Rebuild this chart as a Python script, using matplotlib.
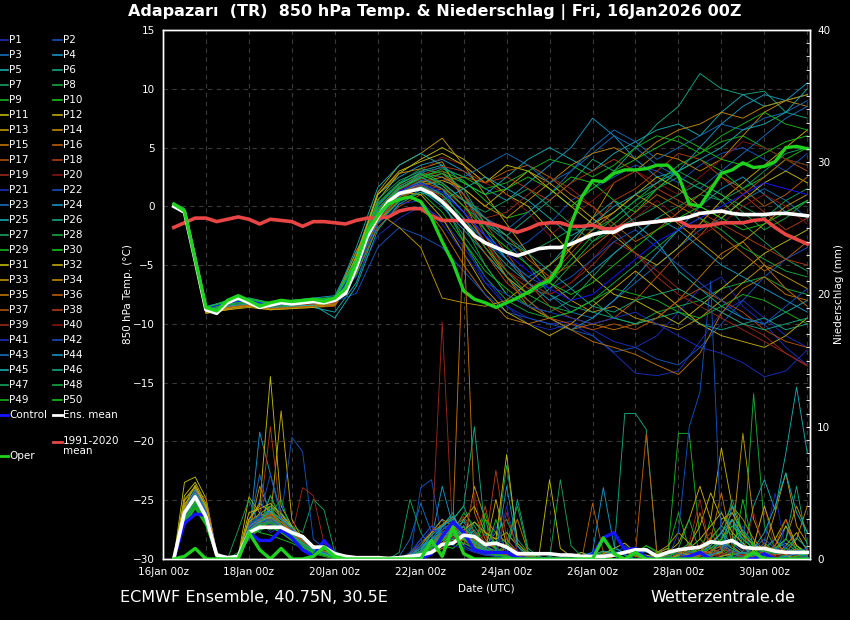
"""
ECMWF ensemble meteogram for Adapazari (TR): 850 hPa temperature of the 50
perturbed members, control, oper run, ensemble mean and 1991-2020 climate,
plus 6-hourly precipitation on a second axis.
"""
import matplotlib
matplotlib.use("Agg")
import matplotlib.pyplot as plt
from matplotlib.lines import Line2D
from matplotlib.ticker import MultipleLocator

FIG_W, FIG_H = 850, 620

# forecast hours (from 16Jan2026 00Z)
HOURS = list(range(6, 361, 6))
MEMBER_HOURS = [6] + list(range(12, 361, 12))
DAY_HOURS = list(range(0, 361, 24))
DAY_LABELS = ["16Jan 00z", "", "18Jan 00z", "", "20Jan 00z", "", "22Jan 00z", "",
              "24Jan 00z", "", "26Jan 00z", "", "28Jan 00z", "", "30Jan 00z", ""]

# 850 hPa temperature (degC), 6-hourly
MEAN_T = [0.0, -0.5, -4.6, -8.8, -9.1, -8.2, -7.8, -8.2, -8.6, -8.4,
          -8.2, -8.3, -8.2, -8.1, -8.2, -8.0, -7.4, -5.2, -2.6, -0.9,
          0.4, 1.1, 1.3, 1.5, 1.1, 0.4, -0.5, -1.5, -2.5, -3.1,
          -3.5, -3.9, -4.2, -3.9, -3.6, -3.5, -3.5, -3.2, -2.8, -2.4,
          -2.2, -2.2, -1.7, -1.5, -1.4, -1.3, -1.2, -1.1, -0.9, -0.6,
          -0.5, -0.4, -0.6, -0.7, -0.7, -0.7, -0.6, -0.6, -0.7, -0.8]
OPER_T = [0.2, -0.4, -4.5, -8.6, -8.9, -8.0, -7.6, -8.0, -8.5, -8.2,
          -8.0, -8.1, -8.0, -7.9, -8.1, -7.8, -7.0, -4.8, -2.2, -0.8,
          0.2, 0.6, 0.8, 0.4, -1.0, -3.0, -4.8, -7.2, -7.9, -8.2,
          -8.6, -8.2, -7.8, -7.3, -6.7, -6.3, -5.0, -1.5, 0.8, 2.2,
          2.1, 2.8, 3.1, 3.1, 3.2, 3.5, 3.5, 2.6, 0.2, 0.0,
          1.4, 2.8, 3.1, 3.7, 3.3, 3.4, 3.8, 5.0, 5.1, 4.9]
CLIM_T = [-1.8, -1.4, -1.0, -1.0, -1.3, -1.1, -0.9, -1.1, -1.5, -1.1,
          -1.2, -1.3, -1.7, -1.3, -1.3, -1.4, -1.5, -1.2, -1.0, -1.0,
          -0.9, -0.4, -0.2, -0.2, -0.8, -1.2, -1.2, -1.2, -1.3, -1.4,
          -1.6, -1.9, -2.2, -1.9, -1.5, -1.4, -1.4, -1.7, -1.7, -1.6,
          -1.9, -1.9, -1.6, -1.5, -1.4, -1.3, -1.1, -1.2, -1.7, -1.7,
          -1.6, -1.4, -1.4, -1.4, -1.2, -1.1, -1.8, -2.4, -2.8, -3.2]

# 850 hPa temperature of control and members, at MEMBER_HOURS
CONTROL_T = [0.1, -0.4, -8.7, -8.2, -8.0, -8.4, -8.3, -8.1, -8.0, -5.1, -0.7,
             1.3, 2.0, 1.2, -0.5, -2.5, -4.0, -5.5, -7.0, -8.0, -7.5,
             -6.0, -4.5, -3.0, -2.0, -1.0, 0.0, 1.0, 2.0, 1.5, 1.0]
MEMBER_T = [
    [0.1, -0.3, -8.7, -8.2, -8.0, -8.5, -8.3, -8.0, -7.9, -5.0, -0.5,
     1.5, 2.0, 0.5, -3.0, -6.5, -8.5, -9.5, -10.0, -9.8, -10.5,
     -11.5, -12.0, -11.0, -9.0, -7.0, -6.0, -8.5, -10.0, -12.0, -13.5],
    [0.0, -0.5, -8.9, -8.4, -8.1, -8.3, -8.2, -8.1, -8.2, -5.8, -1.2,
     0.8, 1.6, 1.2, -0.5, -2.5, -4.0, -3.0, -1.5, 0.5, 1.5,
     2.5, 3.5, 3.0, 2.0, 3.5, 4.5, 5.0, 4.0, 3.0, 4.5],
    [-0.1, -0.4, -8.6, -8.0, -7.9, -8.4, -8.4, -8.3, -8.0, -4.5, 0.2,
     2.0, 2.8, 2.5, 1.0, -1.0, -3.0, -5.0, -7.5, -9.0, -9.5,
     -8.0, -6.5, -5.0, -3.5, -2.0, -1.0, 0.5, 1.5, 0.5, -1.0],
    [0.2, -0.2, -8.5, -8.1, -7.8, -8.2, -8.0, -7.8, -7.6, -4.0, 1.0,
     2.5, 3.5, 4.0, 3.0, 1.5, 0.5, 2.0, 3.5, 5.0, 7.5,
     6.0, 4.0, 2.5, 3.0, 5.0, 7.0, 8.5, 9.5, 9.0, 10.5],
    [0.0, -0.4, -8.8, -8.5, -8.2, -8.6, -8.5, -8.6, -9.0, -6.5, -1.5,
     1.0, 3.0, 3.5, 1.0, -2.0, -4.5, -6.0, -5.0, -3.0, -1.0,
     0.5, -1.5, -3.0, -5.5, -7.0, -8.5, -9.5, -10.0, -9.0, -8.0],
    [0.1, -0.3, -8.6, -8.3, -8.0, -8.4, -8.1, -8.0, -8.1, -5.5, -0.8,
     1.2, 2.2, 1.8, 0.0, -1.5, -2.5, -1.0, 0.5, 2.0, 4.0,
     3.0, 5.0, 7.0, 8.5, 11.3, 10.0, 9.5, 9.8, 8.0, 7.5],
    [0.2, -0.3, -8.7, -8.2, -8.1, -8.3, -8.2, -8.2, -8.3, -5.5, -1.0,
     0.8, 1.5, 0.2, -2.5, -5.0, -7.5, -8.5, -9.0, -8.0, -6.0,
     -4.0, -2.5, -1.0, 0.0, 1.0, 0.5, -1.5, -3.0, -4.5, -5.5],
    [0.0, -0.5, -8.8, -8.4, -8.3, -8.5, -8.4, -8.2, -8.0, -5.3, -1.0,
     1.0, 2.0, 0.5, -3.0, -6.0, -8.0, -9.0, -9.5, -9.0, -8.0,
     -9.5, -10.0, -9.0, -8.5, -8.0, -7.0, -6.5, -6.0, -7.0, -7.5],
    [0.1, -0.4, -8.7, -8.1, -8.0, -8.4, -8.3, -8.1, -8.1, -5.0, -0.5,
     1.3, 1.8, 0.5, -1.5, -4.0, -6.0, -7.5, -6.5, -4.5, -2.5,
     -1.0, 0.5, 2.0, 3.5, 4.5, 5.5, 6.0, 5.0, 4.0, 3.5],
    [0.3, -0.2, -8.6, -8.0, -7.9, -8.2, -8.1, -7.9, -7.8, -4.8, -0.2,
     1.5, 2.6, 3.0, 2.2, 0.5, -1.0, -0.5, 1.0, 2.5, 2.0,
     0.5, -0.5, 1.5, 3.0, 4.0, 3.0, 1.5, 2.5, 4.0, 5.0],
    [0.0, -0.4, -9.0, -8.6, -8.3, -8.6, -8.5, -8.4, -8.2, -4.6, 0.5,
     2.8, 4.0, 5.0, 4.0, 2.5, 1.0, 0.0, -2.0, -4.0, -6.0,
     -7.5, -8.0, -9.0, -10.0, -8.5, -7.0, -5.5, -4.0, -3.0, -2.0],
    [0.1, -0.3, -8.8, -8.4, -8.2, -8.5, -8.4, -8.3, -8.4, -5.5, -1.3,
     0.5, 1.8, 2.2, 1.5, 0.0, 1.5, 3.0, 2.0, 0.5, -1.0,
     -2.5, -4.0, -5.0, -3.5, -1.5, 0.5, 2.0, 3.5, 5.0, 6.5],
    [0.2, -0.3, -8.9, -8.7, -8.4, -8.8, -8.6, -8.5, -8.3, -4.2, 1.2,
     3.5, 4.5, 5.8, 3.5, 1.0, -1.5, -4.0, -6.5, -8.0, -9.0,
     -8.5, -9.5, -10.0, -10.5, -9.5, -8.0, -6.5, -5.0, -6.0, -7.0],
    [0.0, -0.5, -9.1, -8.8, -8.5, -8.7, -8.6, -8.5, -8.2, -4.5, 1.0,
     2.8, 3.2, 3.8, 0.5, -3.5, -6.0, -7.5, -6.0, -3.5, -1.0,
     2.0, 3.0, 4.5, 4.0, 3.0, 4.0, 6.0, 8.0, 9.0, 8.5],
    [0.1, -0.4, -8.8, -8.5, -8.4, -8.6, -8.5, -8.3, -8.2, -5.2, -0.8,
     1.0, 0.5, -2.0, -5.0, -7.5, -9.5, -10.0, -9.5, -10.5, -10.0,
     -10.5, -10.0, -9.5, -8.0, -6.0, -4.0, -3.0, -5.0, -7.0, -8.5],
    [0.0, -0.6, -8.9, -8.6, -8.4, -8.8, -8.7, -8.6, -8.5, -5.8, -1.8,
     0.0, 1.0, 1.5, 0.5, -1.0, -2.5, -4.5, -6.0, -5.0, -3.5,
     -2.0, -0.5, 1.0, 0.0, -1.0, -2.5, -4.0, -5.5, -4.5, -3.0],
    [0.2, -0.3, -8.7, -8.3, -8.1, -8.4, -8.3, -8.2, -8.1, -5.4, -1.0,
     1.0, 2.0, 2.8, 1.0, -1.5, -4.0, -6.5, -8.5, -9.5, -10.0,
     -9.5, -8.0, -6.0, -4.0, -2.5, -0.5, 1.0, 2.5, 4.0, 3.0],
    [0.1, -0.4, -8.8, -8.4, -8.2, -8.6, -8.4, -8.3, -8.2, -5.0, -0.6,
     1.4, 2.4, 3.0, 1.0, -2.5, -5.5, -7.0, -6.0, -4.0, -2.0,
     0.5, 1.5, 3.0, 4.5, 4.0, 2.5, 1.0, -0.5, -2.0, -1.0],
    [0.0, -0.5, -8.9, -8.6, -8.3, -8.7, -8.5, -8.4, -8.3, -5.5, -1.1,
     0.6, 1.6, 1.0, -1.0, -3.5, -5.5, -7.0, -7.5, -6.5, -5.0,
     -3.0, -4.0, -5.5, -7.0, -8.0, -9.0, -10.0, -11.0, -12.5, -13.5],
    [0.1, -0.4, -8.7, -8.3, -8.1, -8.4, -8.3, -8.1, -8.0, -4.8, -0.3,
     1.8, 3.0, 4.2, 3.5, 2.0, 1.0, -0.5, -2.5, -1.0, 0.5,
     2.0, 3.0, 2.0, 1.0, 2.5, 4.0, 5.5, 5.0, 4.0, 3.5],
    [0.2, -0.3, -8.6, -8.1, -7.9, -8.3, -8.2, -8.0, -7.9, -6.0, -2.5,
     -1.0, 0.0, -1.0, -3.5, -6.0, -8.5, -10.0, -10.5, -10.0, -11.0,
     -12.5, -14.2, -14.4, -14.0, -11.5, -9.0, -8.0, -9.5, -11.0, -12.0],
    [0.0, -0.4, -8.8, -8.4, -8.2, -8.5, -8.3, -8.3, -8.1, -7.4, -3.5,
     -1.8, -2.5, -3.5, -5.5, -7.5, -9.0, -9.5, -10.0, -10.5, -11.0,
     -12.4, -12.0, -13.0, -13.5, -12.0, -10.0, -8.0, -6.0, -4.5, -3.5],
    [0.1, -0.3, -8.7, -8.2, -8.0, -8.4, -8.2, -8.1, -8.0, -5.2, -0.7,
     1.2, 2.2, 2.0, 0.5, -1.0, -2.0, -0.5, 1.0, 3.0, 4.5,
     6.0, 5.0, 3.5, 2.5, 1.5, 3.0, 4.5, 6.0, 7.5, 8.5],
    [-0.1, -0.5, -8.9, -8.5, -8.3, -8.6, -8.5, -8.4, -8.3, -5.6, -1.4,
     0.4, 1.4, 0.0, -2.0, -4.0, -6.0, -8.0, -9.5, -10.5, -9.5,
     -8.0, -6.0, -4.0, -2.0, 0.0, 1.5, 2.5, 1.0, -0.5, 0.5],
    [0.1, -0.3, -8.6, -8.2, -8.0, -8.3, -8.2, -8.1, -7.9, -3.5, 1.6,
     3.5, 4.5, 3.5, 2.0, 1.0, 2.5, 4.0, 5.0, 4.0, 3.0,
     4.5, 5.5, 6.5, 7.0, 6.0, 8.0, 9.5, 8.5, 9.0, 9.5],
    [0.0, -0.4, -8.7, -8.3, -8.1, -8.5, -8.3, -8.2, -8.1, -5.3, -0.9,
     0.9, 1.7, 1.0, -1.0, -3.0, -5.0, -6.5, -7.5, -8.5, -9.0,
     -9.5, -10.0, -9.5, -9.0, -10.0, -10.5, -10.0, -9.5, -10.5, -10.0],
    [0.2, -0.2, -8.6, -8.1, -7.8, -8.2, -8.0, -7.9, -7.7, -4.4, 0.6,
     2.2, 3.0, 2.0, 0.5, -0.5, 0.5, 1.5, 0.0, -1.5, -3.0,
     -2.0, -1.0, 0.0, 1.0, 2.0, 1.0, 0.0, -1.0, 0.5, 1.5],
    [0.1, -0.3, -8.8, -8.3, -8.1, -8.4, -8.3, -8.1, -8.0, -5.0, -0.5,
     1.5, 2.5, 1.5, -1.5, -5.0, -7.5, -8.5, -7.0, -5.0, -3.0,
     -1.5, 0.0, 1.5, 3.0, 2.0, 1.0, -0.5, -2.0, -1.0, 0.5],
    [0.0, -0.5, -8.9, -8.5, -8.3, -8.7, -8.5, -8.3, -8.2, -5.8, -1.5,
     0.5, 1.2, -0.5, -3.0, -5.5, -7.0, -8.5, -9.5, -9.0, -8.0,
     -7.0, -7.5, -8.0, -9.0, -9.5, -8.5, -7.5, -8.0, -9.0, -10.0],
    [0.1, -0.3, -8.7, -8.2, -8.0, -8.3, -8.2, -8.0, -7.9, -4.9, -0.4,
     1.6, 2.3, 2.8, 2.0, 1.0, 1.5, 2.5, 1.5, 0.0, 1.5,
     3.0, 4.0, 5.0, 6.0, 5.0, 4.0, 3.5, 4.5, 5.5, 6.0],
    [0.2, -0.3, -9.0, -8.7, -8.4, -8.7, -8.6, -8.4, -8.2, -4.3, 1.0,
     3.0, 3.8, 4.5, 3.5, 2.0, 3.5, 3.0, 1.5, 0.0, -1.5,
     -0.5, 1.0, 2.5, 1.5, 0.0, -1.0, 0.5, 2.0, 3.0, 2.0],
    [0.0, -0.5, -9.1, -8.8, -8.6, -8.8, -8.7, -8.6, -8.4, -5.0, -0.6,
     1.2, 1.0, -1.0, -4.0, -7.0, -9.0, -10.0, -11.0, -10.0, -8.5,
     -7.0, -5.5, -7.0, -8.5, -10.0, -11.0, -11.5, -12.0, -11.0, -9.5],
    [0.1, -0.4, -8.9, -8.6, -8.3, -8.6, -8.5, -8.3, -8.1, -3.8, -0.5,
     -1.8, -3.5, -7.8, -8.2, -8.5, -8.0, -6.5, -5.0, -3.5, -2.0,
     -0.5, 1.0, 0.0, -1.5, -3.0, -4.5, -3.0, -1.5, 0.0, 1.0],
    [0.0, -0.5, -9.0, -8.7, -8.5, -8.7, -8.6, -8.5, -8.3, -5.4, -1.0,
     1.0, 2.0, 2.5, 1.5, 0.0, -1.0, 0.5, 2.0, 3.5, 4.5,
     5.0, 4.0, 5.5, 6.5, 7.0, 8.0, 7.5, 8.5, 9.0, 9.5],
    [0.1, -0.3, -8.8, -8.5, -8.3, -8.6, -8.4, -8.3, -8.1, -5.1, -0.7,
     1.1, 2.1, 1.5, -0.5, -3.0, -6.0, -8.5, -9.5, -10.5, -11.5,
     -12.0, -12.6, -13.5, -14.3, -12.5, -9.1, -7.0, -6.0, -7.5, -8.0],
    [0.0, -0.5, -8.9, -8.6, -8.4, -8.7, -8.6, -8.5, -8.4, -5.6, -1.2,
     0.8, 1.8, 2.2, 2.5, 2.0, 3.0, 3.5, 2.5, 1.0, 0.0,
     -1.5, -3.0, -2.0, -0.5, 1.0, 2.5, 1.5, 0.0, 1.0, 2.5],
    [0.2, -0.3, -8.7, -8.3, -8.1, -8.5, -8.3, -8.2, -8.1, -5.3, -0.9,
     1.0, 1.9, 0.8, -1.5, -4.0, -6.5, -8.0, -9.5, -10.0, -10.5,
     -10.0, -10.5, -9.5, -8.0, -7.0, -8.0, -9.0, -10.5, -11.5, -12.0],
    [0.1, -0.4, -8.8, -8.4, -8.2, -8.5, -8.4, -8.3, -8.2, -4.9, -0.3,
     1.7, 2.6, 3.4, 3.0, 2.0, 2.5, 1.5, 0.5, 2.0, 3.0,
     4.0, 3.0, 1.5, 0.5, -0.5, -1.5, -2.5, -3.5, -4.5, -5.0],
    [0.0, -0.5, -8.8, -8.5, -8.3, -8.6, -8.5, -8.3, -8.2, -5.3, -0.9,
     1.0, 1.8, 1.5, 0.0, -1.0, -0.5, 1.0, 2.5, 1.5, 0.0,
     -2.0, -4.0, -6.0, -7.5, -8.5, -9.5, -10.5, -11.5, -12.5, -13.6],
    [0.1, -0.3, -8.7, -8.3, -8.1, -8.4, -8.3, -8.2, -8.0, -5.2, -0.6,
     1.3, 2.3, 2.0, 0.0, -3.0, -5.5, -6.5, -7.5, -6.5, -4.5,
     -2.5, -1.0, 0.5, -1.0, -2.5, -1.5, 0.0, 1.0, 0.0, -1.5],
    [0.1, -0.4, -8.7, -8.2, -8.0, -8.4, -8.3, -8.1, -8.0, -5.5, -1.5,
     0.2, 0.5, -1.5, -4.0, -6.5, -7.5, -8.5, -9.0, -9.5, -10.0,
     -9.5, -9.0, -10.0, -11.0, -12.0, -12.5, -13.3, -14.5, -14.0, -12.2],
    [0.0, -0.5, -8.8, -8.4, -8.2, -8.5, -8.4, -8.2, -8.1, -5.4, -1.0,
     0.9, 1.9, 1.0, -1.0, -3.0, -4.5, -6.0, -7.0, -6.0, -4.5,
     -3.0, -2.0, -3.5, -5.0, -6.5, -8.0, -9.5, -10.0, -8.5, -7.0],
    [0.2, -0.3, -8.6, -8.1, -7.9, -8.3, -8.1, -8.0, -7.9, -4.7, 0.0,
     1.9, 2.9, 3.3, 2.5, 3.5, 4.5, 3.5, 2.0, 3.0, 5.0,
     6.5, 5.5, 4.0, 5.0, 6.0, 7.0, 6.5, 7.5, 8.0, 9.0],
    [0.1, -0.4, -8.7, -8.3, -8.1, -8.4, -8.3, -8.1, -8.0, -5.1, -0.5,
     1.5, 2.5, 1.5, -0.5, -2.5, -4.5, -6.5, -8.0, -7.0, -5.5,
     -4.0, -2.5, -1.0, -2.0, -3.5, -5.0, -6.0, -7.0, -8.0, -9.0],
    [0.0, -0.5, -8.8, -8.5, -8.3, -8.6, -8.5, -8.4, -9.5, -6.8, -2.0,
     0.2, 1.2, 0.5, 1.5, 2.5, 1.5, 0.5, -1.0, -2.5, -1.5,
     0.0, 1.0, 2.0, 3.0, 4.0, 5.0, 6.5, 7.0, 8.0, 10.0],
    [0.1, -0.3, -8.7, -8.2, -8.0, -8.3, -8.2, -8.0, -7.9, -4.8, -0.2,
     1.7, 2.7, 2.0, 0.5, -1.0, -2.5, -4.0, -5.5, -7.0, -8.5,
     -9.0, -8.0, -7.5, -7.0, -8.0, -9.0, -10.0, -10.5, -10.0, -9.5],
    [0.2, -0.2, -8.6, -8.1, -7.9, -8.2, -8.1, -7.9, -7.8, -4.6, 0.3,
     2.0, 3.2, 2.8, 1.5, -1.5, -3.0, -4.0, -3.0, -2.0, -2.0,
     -1.0, 0.5, 1.5, 2.5, 1.5, 0.5, 1.5, 3.0, 4.5, 5.0],
    [0.0, -0.4, -8.8, -8.4, -8.2, -8.5, -8.4, -8.2, -8.1, -5.3, -0.8,
     1.1, 2.1, 1.0, -1.0, -3.5, -5.5, -7.5, -8.5, -9.0, -8.0,
     -6.5, -5.0, -3.5, -2.0, -1.0, -2.0, -3.5, -4.5, -5.5, -6.0],
    [0.1, -0.3, -8.7, -8.3, -8.1, -8.4, -8.3, -8.1, -8.0, -5.0, -0.4,
     1.5, 2.4, 3.2, 2.5, 1.5, 2.0, 3.0, 4.0, 3.5, 2.5,
     3.5, 5.0, 6.0, 5.5, 4.5, 6.0, 7.0, 8.0, 7.0, 6.5],
    [0.2, -0.3, -8.6, -8.1, -7.9, -8.2, -8.1, -7.9, -7.8, -4.5, 0.1,
     1.9, 2.8, 1.8, 0.0, -2.0, -3.5, -5.0, -6.5, -7.5, -6.5,
     -5.0, -3.5, -2.0, -1.0, 0.0, -1.0, -2.0, -1.5, -0.5, 0.5],
]

# 6-hourly precipitation (mm), at HOURS
MEAN_P = [0, 3.5, 4.7, 3.2, 0.3, 0.1, 0.2, 2.0, 2.4, 2.4,
          2.4, 2.0, 1.7, 0.9, 0.9, 0.4, 0.2, 0.1, 0.1, 0.1,
          0.05, 0.1, 0.2, 0.3, 0.5, 1.1, 1.2, 1.8, 1.7, 1.1,
          1.2, 0.9, 0.4, 0.4, 0.4, 0.4, 0.3, 0.3, 0.2, 0.2,
          0.2, 0.3, 0.5, 0.7, 0.7, 0.2, 0.5, 0.7, 0.8, 0.9,
          1.3, 1.2, 1.4, 0.9, 0.8, 0.8, 0.6, 0.5, 0.5, 0.5]
CONTROL_P = [0, 2.7, 3.4, 3.3, 0.3, 0.1, 0.1, 2.0, 1.4, 1.4,
             2.2, 1.6, 0.7, 0.2, 1.4, 0.4, 0, 0, 0, 0,
             0, 0, 0, 0, 0.4, 1.7, 2.8, 2.0, 0.7, 0.5,
             0.5, 0.5, 0.1, 0, 0, 0, 0, 0, 0, 0.3,
             1.6, 2.0, 0.7, 0.8, 0.1, 0, 0, 0, 0.2, 0.5,
             0, 0, 0, 0, 0, 0.4, 0, 0, 0, 0]
OPER_P = [0, 0.2, 0.8, 0, 0, 0, 0, 2.0, 0.7, 0,
          0.8, 0, 0, 0.2, 0.9, 0.2, 0, 0, 0, 0,
          0, 0, 0, 0, 1.4, 0.2, 2.4, 0.4, 0, 0,
          0, 0, 0, 0, 0, 0, 0, 0, 0, 0,
          1.6, 0.4, 0, 0.5, 0, 0, 0, 0, 0, 0,
          0, 0, 0, 0, 0.5, 0, 0, 0, 0, 0]
MEMBER_P = [
    [0, 3.2, 4.5, 3.0, 0.2, 0, 0.2, 2.5, 3.0, 2.0, 2.5, 1.5, 1.0, 0.5, 0.8, 0.2, 0, 0, 0.1, 0,
     0, 0, 0.3, 1.0, 1.5, 2.0, 1.2, 1.8, 1.0, 0.6, 0.8, 0.3, 0.2, 0, 0, 0.1, 0, 0, 0.3, 0.5,
     0.2, 0, 0, 0.4, 0.8, 0.3, 0, 0.5, 1.2, 0.6, 0.3, 0.8, 1.5, 0.6, 0.2, 0.4, 1.0, 0.5, 0.2, 0.4],
    [0, 3.8, 5.0, 3.5, 0.3, 0, 0, 1.8, 4.5, 2.8, 3.0, 2.2, 1.5, 0.8, 0.5, 0.3, 0, 0, 0, 0,
     0, 0, 0, 5.4, 6.0, 1.5, 2.5, 1.0, 0.5, 0.8, 1.2, 1.5, 0.6, 0.3, 0, 0, 0, 0.2, 0, 0,
     0, 0.3, 1.0, 0.5, 0, 0, 0.2, 0, 0, 0.4, 1.2, 2.0, 0.8, 0.3, 0, 0, 0.5, 1.5, 0.8, 0.3],
    [0, 3.5, 5.2, 3.4, 0.1, 0, 0.1, 2.8, 2.0, 3.2, 2.8, 1.8, 0.6, 0.3, 0.5, 0.6, 0.1, 0, 0, 0,
     0, 0.2, 1.5, 4.2, 2.0, 3.0, 1.0, 2.2, 0.8, 0.4, 0.3, 0.5, 0.2, 0, 0, 0, 0, 0, 0, 0,
     0, 0, 0, 0, 0, 0, 0, 0.3, 0.8, 0.4, 0.2, 0, 0, 0.6, 1.2, 0.5, 0.2, 2.5, 0.6, 0],
    [0, 4.0, 5.5, 3.8, 0.4, 0, 0.3, 1.5, 9.6, 6.4, 3.5, 2.0, 1.2, 0.8, 0.4, 0.2, 0, 0, 0, 0,
     0, 0, 0.2, 0.8, 1.5, 5.5, 2.5, 3.0, 1.8, 0.9, 0.5, 0.8, 0.2, 0.1, 0, 0, 0, 0, 0, 0,
     0, 0, 0.5, 0.2, 0, 0, 0, 0, 0.3, 0.6, 0.2, 0.5, 0.2, 0, 0, 0.8, 0.4, 0.2, 0, 0],
    [0, 3.0, 4.8, 3.2, 0.2, 0, 0, 2.2, 3.5, 2.5, 2.0, 1.5, 1.0, 0.6, 0.5, 0.2, 0, 0, 0, 0,
     0, 0, 0.1, 0.6, 2.0, 2.5, 3.5, 1.5, 2.2, 1.0, 0.6, 0.4, 0.2, 0, 0, 0, 0, 0.2, 0.5, 0.2,
     0.3, 0.8, 0.5, 0.4, 0.2, 0.5, 0.8, 0.3, 0, 0, 0, 0.3, 0.6, 0.4, 4.0, 6.0, 3.7, 8.0, 13.0, 8.0],
    [0, 3.3, 4.6, 3.1, 0.2, 0, 0.2, 2.0, 2.8, 4.0, 3.5, 2.5, 1.2, 0.8, 0.6, 0.3, 0, 0, 0, 0,
     0, 0, 0.3, 0.5, 1.0, 2.5, 3.0, 4.0, 2.0, 1.0, 0.5, 0.2, 0, 0, 0, 0, 0.1, 0, 0, 0,
     0.2, 0.5, 11.0, 11.0, 9.8, 0.3, 0, 0.4, 0.2, 0, 0.5, 1.5, 2.5, 1.8, 0.6, 0.3, 0.8, 1.2, 0.6, 0.4],
    [0, 2.8, 4.2, 2.8, 0.1, 0, 0, 2.2, 2.5, 4.8, 3.0, 2.5, 2.0, 4.5, 3.7, 0.5, 0, 0, 0, 0,
     0, 0.5, 4.5, 2.0, 0.8, 1.2, 2.0, 1.5, 2.8, 1.8, 1.0, 7.1, 1.5, 0.5, 0, 0.2, 0, 0, 0, 0,
     0, 0, 0, 0, 0, 0.2, 0.5, 0.2, 0, 0, 0, 0.2, 0.8, 0.4, 0.2, 0, 0, 0.3, 0.6, 0.2],
    [0, 3.6, 5.0, 3.6, 0.3, 0, 0.1, 1.6, 2.2, 2.8, 2.2, 1.8, 1.5, 0.8, 0.4, 0.1, 0, 0, 0, 0,
     0, 0, 0.2, 0.4, 0.8, 1.5, 2.0, 3.5, 2.5, 1.2, 0.8, 0.5, 0.4, 0.2, 0, 0, 0, 0, 0, 0.2,
     0.5, 0.3, 0, 0, 0.2, 0.4, 0.3, 0, 0.5, 0.8, 1.5, 0.8, 0.5, 0.3, 12.5, 2.5, 0.8, 0.4, 0.2, 0],
    [0, 3.1, 4.4, 3.0, 0.2, 0, 0, 1.9, 2.6, 2.2, 2.5, 1.6, 1.2, 0.6, 0.5, 0.3, 0, 0, 0, 0,
     0, 0, 0.2, 0.6, 1.2, 2.0, 1.5, 2.5, 1.0, 0.5, 0.4, 0.3, 0.5, 0.2, 0, 0, 0, 0, 0, 0,
     0, 0, 0, 0.5, 1.0, 0.6, 0.3, 9.5, 9.5, 1.5, 0.8, 0.4, 0.2, 0, 0.5, 1.2, 0.6, 0.3, 0.8, 0.4],
    [0, 2.6, 4.0, 2.6, 0.1, 0, 0, 2.4, 2.0, 1.8, 1.5, 1.2, 0.8, 0.4, 0.2, 0, 0, 0, 0, 0,
     0, 0, 0.1, 0.3, 0.6, 1.0, 0.8, 1.5, 0.6, 0.3, 3.0, 0.4, 0, 0, 0, 0, 0, 0, 0, 0,
     0, 0, 0, 0, 0, 0, 0, 0.2, 0.6, 0.3, 3.0, 0.8, 0, 0.3, 0.6, 0.2, 0, 0, 0, 0.2],
    [0, 5.8, 6.2, 4.6, 0.5, 0, 0.3, 3.0, 4.0, 13.8, 4.0, 2.5, 1.5, 1.0, 0.6, 0.3, 0, 0, 0, 0,
     0, 0, 0, 0.3, 1.0, 2.0, 1.5, 3.0, 4.0, 2.0, 1.5, 2.0, 1.0, 0.3, 0, 0, 0, 0.2, 0.5, 0,
     0.4, 0.8, 1.2, 0.5, 0.3, 0, 0, 0.4, 1.0, 2.5, 5.0, 3.0, 3.5, 2.0, 1.0, 0.8, 1.5, 3.0, 1.0, 0.5],
    [0, 4.5, 5.5, 4.0, 0.4, 0, 0.2, 4.7, 3.5, 3.0, 11.2, 3.0, 1.5, 0.8, 0.4, 0.2, 0, 0, 0, 0,
     0, 0, 0, 0.2, 0.6, 1.5, 2.0, 2.5, 1.5, 0.8, 0.5, 0.3, 0.2, 0, 0, 0, 0, 0, 0, 0,
     0, 0.2, 0.5, 0.3, 0, 0, 0.5, 1.2, 3.0, 5.5, 3.0, 8.4, 4.0, 2.0, 1.0, 0.5, 0.3, 1.0, 2.0, 0.6],
    [0, 4.2, 5.0, 3.8, 0.3, 0, 0, 2.5, 3.0, 3.5, 2.8, 2.0, 1.2, 0.6, 0.3, 0.1, 0, 0, 0, 0,
     0, 0, 0.3, 1.0, 2.0, 3.0, 2.5, 1.0, 5.5, 3.0, 2.0, 1.2, 0.5, 0.2, 0, 0, 0, 0, 0, 0,
     0, 0, 0, 0, 0, 0.3, 0.6, 0.3, 0, 0, 0.2, 0.5, 1.5, 9.5, 3.0, 1.0, 0.6, 0.4, 0.8, 0.3],
    [0, 3.9, 5.2, 3.6, 0.3, 0, 0.2, 2.0, 5.5, 3.5, 2.5, 1.8, 1.0, 0.5, 0.3, 0.2, 0, 0, 0, 0,
     0, 0, 0.2, 0.5, 1.0, 1.8, 2.2, 1.5, 1.0, 0.6, 0.3, 0.2, 0, 0, 0, 0, 0, 0, 0, 0,
     0, 0, 0, 0, 0, 0, 0, 0, 0.4, 0.8, 1.6, 2.5, 4.0, 3.0, 1.5, 0.6, 0.3, 0.5, 1.5, 4.0],
    [0, 3.4, 4.8, 3.3, 0.2, 0, 0, 2.3, 3.0, 2.6, 2.2, 1.6, 1.0, 0.6, 0.3, 0.1, 0, 0, 0, 0,
     0, 0, 0.1, 0.4, 1.2, 2.2, 2.8, 25.0, 3.5, 1.5, 0.8, 0.5, 0.2, 0, 0, 0, 0, 0, 0, 0,
     0, 0, 0, 0, 0, 0, 0, 0, 0.6, 3.5, 0.8, 0.2, 0.4, 0.2, 0, 0.3, 0.5, 0.2, 0, 0],
    [0, 3.7, 5.1, 4.6, 0.4, 0, 0, 2.6, 2.8, 3.0, 2.4, 1.9, 1.4, 0.8, 0.5, 0.2, 0, 0, 0, 0,
     0, 0, 0, 0.3, 0.8, 1.5, 2.0, 1.8, 1.2, 0.8, 0.6, 0.4, 0.2, 0, 0, 0, 0, 0, 0, 4.2,
     0.5, 0, 0, 0.5, 9.5, 0.4, 0, 0, 0, 0.3, 0.8, 0.5, 0.2, 0, 0, 0, 0.3, 0.8, 0.4, 0.2],
    [0, 3.3, 4.7, 3.5, 0.3, 0, 0, 2.1, 2.9, 3.5, 3.2, 2.0, 1.5, 1.0, 0.6, 0.3, 0.1, 0, 0, 0,
     0, 0, 0.2, 0.6, 1.2, 1.6, 2.4, 3.2, 2.0, 1.2, 0.8, 0.5, 0.3, 0.1, 0, 0, 0, 0, 0, 0,
     0, 0, 0, 0, 0, 0, 0, 0, 0, 0.2, 0.6, 1.0, 0.6, 0.3, 0.2, 0.4, 0.8, 0.5, 0.3, 0.2],
    [0, 3.5, 4.9, 3.4, 0.2, 0, 0, 2.0, 3.1, 10.0, 3.0, 2.2, 1.5, 0.9, 0.5, 0.2, 0, 0, 0, 0,
     0, 0, 0, 0.2, 0.5, 1.0, 1.8, 2.5, 1.5, 1.0, 6.7, 1.5, 0.5, 0.2, 0, 0, 0, 0, 0, 0,
     0, 0, 0, 0, 0, 0, 0, 0, 0.4, 1.0, 2.0, 0.8, 0.4, 0.2, 0, 0, 0.3, 0.6, 0.3, 0],
    [0, 3.0, 4.3, 3.1, 0.2, 0, 0, 2.3, 2.6, 2.9, 2.4, 1.8, 5.4, 4.8, 1.2, 0.4, 0, 0, 0, 0,
     0, 0, 0, 0.3, 0.8, 17.9, 1.5, 1.2, 0.8, 0.5, 0.3, 0.2, 0, 0, 0, 0, 0, 0, 0, 0,
     0, 0, 0, 0, 0, 0, 0, 0, 0, 0, 0.2, 0.4, 0.2, 0, 1.0, 4.0, 0.8, 0.2, 0.4, 0.2],
    [0, 2.9, 4.1, 2.9, 0.1, 0, 0, 1.7, 2.4, 2.6, 2.0, 1.4, 1.0, 0.5, 0.3, 0.1, 0, 0, 0, 0,
     0, 0, 0, 0.2, 0.6, 1.0, 1.5, 2.0, 1.2, 0.6, 0.4, 0.2, 0.1, 0, 0, 0, 0, 0, 0, 0,
     0, 0, 0, 0, 0, 0.2, 0.6, 0.3, 0, 0, 0.3, 0.8, 1.5, 0.6, 0.2, 0, 0, 0.2, 0.5, 0.2],
    [0, 3.4, 4.7, 3.2, 0.2, 0, 0, 2.4, 3.2, 2.5, 2.0, 1.5, 0.8, 0.5, 0.3, 0.1, 0, 0, 0, 0,
     0, 0, 0.3, 1.5, 2.5, 1.5, 1.0, 0.8, 0.5, 0.3, 0.2, 4.0, 0.5, 0, 0, 0, 0, 0, 0, 0,
     0, 0, 0, 0, 0, 0, 0, 0, 0, 0, 0, 0.2, 0.4, 2.5, 0.3, 0, 0, 0.2, 0.5, 0.8],
    [0, 3.6, 5.0, 3.5, 0.3, 0, 0.2, 2.6, 3.3, 2.8, 3.2, 9.2, 8.1, 1.5, 0.8, 0.3, 0, 0, 0, 0,
     0, 0, 0.4, 1.0, 1.5, 2.5, 1.8, 1.0, 0.6, 0.3, 0.2, 0.1, 0, 0, 0, 0, 0, 0, 0, 0,
     0, 0, 0, 0, 0, 0, 0, 0.2, 0.5, 0.3, 0, 0, 0.2, 0.3, 0.1, 0, 0, 0.2, 0.3, 0.1],
    [0, 3.2, 4.6, 3.3, 0.2, 0, 0, 2.2, 6.4, 3.0, 2.5, 1.8, 1.2, 0.6, 0.4, 0.2, 0, 0, 0, 0,
     0, 0, 0.2, 0.8, 1.8, 2.5, 3.0, 2.0, 1.5, 0.8, 0.5, 0.3, 0.2, 0, 0, 0, 0, 0, 0, 0,
     0.3, 0.6, 0.3, 0, 0, 0, 0.4, 0.8, 0.5, 0.3, 0.6, 1.2, 0.8, 0.4, 0.3, 0.8, 1.5, 0.8, 0.4, 0.2],
    [0, 3.7, 5.3, 3.7, 0.3, 0, 0, 2.0, 2.7, 3.8, 2.6, 2.0, 1.3, 0.7, 0.4, 0.2, 0, 0, 0, 0,
     0, 0, 0.2, 0.6, 1.4, 2.0, 2.6, 1.8, 1.0, 0.5, 0.3, 0.2, 0, 0, 0, 0, 0, 0, 0.2, 0.5,
     5.4, 1.0, 0.3, 0, 0, 0, 0, 0, 0, 0.5, 1.0, 2.0, 1.2, 0.5, 0.3, 0.5, 0.8, 0.4, 0.2, 0.4],
    [0, 3.3, 4.7, 3.3, 0.2, 0, 0, 2.4, 2.9, 3.3, 2.6, 1.9, 1.3, 0.8, 0.4, 0.2, 0, 0, 0, 0,
     0, 0, 0.2, 0.6, 1.2, 2.0, 2.4, 2.8, 1.6, 0.8, 0.4, 0.2, 0.1, 0, 0, 0, 0, 0, 0, 0,
     0, 0, 0, 0, 0, 0, 0.3, 0.6, 0.3, 0, 0.4, 0.8, 1.5, 2.2, 1.2, 0.6, 0.4, 0.8, 1.6, 0.8],
    [0, 3.0, 4.4, 3.0, 0.2, 0, 0, 2.0, 2.6, 3.0, 2.3, 1.7, 1.2, 0.7, 0.5, 0.3, 0, 0, 0, 0,
     0, 0, 0.3, 0.8, 1.8, 2.5, 3.0, 4.0, 10.0, 2.0, 0.8, 0.3, 0.1, 0, 0, 0, 0, 0, 0, 0,
     0, 0, 0, 0, 0, 0, 0, 0, 0, 0, 0.3, 0.6, 3.0, 0.8, 0.5, 1.0, 0.5, 0.2, 0, 0],
    [0, 2.7, 4.1, 2.7, 0.1, 0, 2.2, 4.5, 2.5, 4.8, 3.0, 2.0, 1.2, 0.6, 0.3, 0.1, 0, 0, 0, 0,
     0, 0, 0, 0.3, 0.8, 1.2, 1.8, 2.5, 1.5, 1.0, 2.0, 3.0, 1.0, 0.3, 0, 0, 6.0, 1.0, 0.2, 0,
     0, 0, 0, 0, 0, 0, 0, 0, 0, 0, 0, 0.2, 0.5, 0.3, 0, 0, 0, 0.4, 1.0, 0.4],
    [0, 3.1, 4.5, 3.2, 0.2, 0, 0.5, 2.3, 2.7, 3.4, 4.5, 2.0, 1.4, 0.8, 0.5, 0.2, 0, 0, 0, 0,
     0, 0, 0.2, 0.6, 1.5, 2.0, 2.5, 1.8, 1.2, 0.8, 0.6, 0.4, 0.2, 0, 0, 0, 0, 0, 0, 0,
     0, 0, 0, 0, 0, 0, 0, 0.2, 0.8, 0.5, 1.5, 2.5, 1.8, 0.8, 0.4, 0.3, 0.6, 0.3, 0.2, 0.1],
    [0, 2.9, 4.3, 2.9, 0.2, 0, 0, 2.1, 2.5, 2.8, 2.2, 1.6, 1.1, 0.6, 0.3, 0.1, 0, 0, 0, 0,
     0, 0, 0.2, 0.5, 1.0, 1.8, 2.0, 1.5, 1.0, 3.5, 0.8, 0.2, 0, 0, 0, 0, 0, 0, 0, 0,
     0, 0, 0, 0, 0, 0, 0.6, 3.5, 0.8, 0, 0, 0, 0, 0.2, 0.4, 0.2, 0, 0, 0, 0],
    [0, 2.5, 3.8, 2.5, 0.1, 0, 0, 1.8, 2.2, 2.4, 2.0, 1.4, 0.9, 0.5, 0.3, 0.1, 0, 0, 0, 0,
     0, 0, 0.1, 0.4, 0.9, 1.4, 1.8, 1.4, 0.9, 0.5, 0.3, 0.2, 0.1, 0, 0, 0, 0, 0, 0, 0,
     0, 0, 0, 0.3, 0.6, 0.3, 0, 0.4, 0.8, 0.4, 0.8, 1.5, 0.8, 0.4, 0.2, 0.4, 0.6, 0.3, 0.2, 0.5],
    [0, 4.8, 5.8, 4.2, 0.4, 0, 0.3, 3.5, 3.8, 4.2, 3.4, 2.4, 1.6, 1.0, 0.5, 0.2, 0, 0, 0, 0,
     0, 0, 0, 0.2, 0.6, 1.2, 1.8, 2.2, 2.8, 2.0, 1.5, 7.9, 1.2, 0.4, 0.2, 6.0, 0.8, 0.2, 0, 0,
     0, 0, 0, 0, 0, 0, 0, 0.3, 0.8, 1.5, 2.5, 3.5, 2.0, 1.2, 0.6, 0.4, 1.0, 2.5, 1.0, 0.4],
    [0, 4.0, 5.6, 4.0, 0.3, 0, 0.2, 3.0, 4.2, 3.6, 3.0, 2.2, 1.4, 0.8, 0.4, 0.2, 0, 0, 0, 0,
     0, 0, 0, 0.2, 0.4, 0.8, 1.2, 1.5, 1.0, 0.6, 4.5, 1.0, 0.2, 0, 0, 0, 0, 0, 0, 0,
     0, 0, 0, 0, 0, 0, 0, 0, 0, 0, 0, 0.2, 0.4, 0.2, 1.0, 4.0, 1.5, 0.3, 0, 0],
    [0, 4.4, 5.4, 3.9, 0.3, 0, 0, 2.8, 3.4, 4.0, 3.2, 2.2, 1.4, 0.8, 0.4, 0.1, 0, 0, 0, 0,
     0, 0, 0.4, 1.2, 2.0, 2.6, 3.2, 2.0, 1.4, 0.8, 0.5, 0.3, 0.1, 0, 0, 0, 0, 0, 0, 0,
     0, 0, 0, 0, 0, 0.5, 1.0, 2.0, 1.2, 0.6, 0.5, 1.5, 3.0, 1.8, 1.0, 0.8, 3.5, 6.5, 2.5, 1.2],
    [0, 3.8, 5.0, 3.5, 0.3, 0, 0, 2.5, 3.0, 3.2, 2.8, 2.0, 1.3, 0.8, 0.4, 0.2, 0, 0, 0, 0,
     0, 0, 0.2, 0.6, 1.2, 1.8, 2.5, 2.0, 1.2, 0.6, 0.4, 0.2, 0, 0, 0, 0, 0, 0, 0, 0.3,
     0.6, 0.3, 0, 0, 0, 0.4, 0.8, 0.5, 0.3, 0.6, 1.2, 2.0, 3.5, 2.0, 1.0, 0.6, 0.8, 1.5, 4.0, 2.0],
    [0, 3.5, 4.9, 3.4, 0.3, 0, 0, 2.3, 2.9, 3.1, 2.6, 1.9, 1.2, 0.7, 0.4, 0.2, 0, 0, 0, 0,
     0, 0, 0.2, 0.6, 1.0, 1.6, 2.2, 1.8, 1.0, 0.6, 0.3, 1.0, 3.0, 0.5, 0, 0, 0, 0, 0, 0,
     0, 0, 0, 0, 0, 0, 0, 0, 0, 0.5, 1.5, 5.0, 1.0, 0.3, 0, 0, 0, 0.2, 0.4, 0.2],
    [0, 3.6, 5.0, 3.6, 0.3, 0, 0, 2.4, 3.0, 3.4, 2.8, 2.1, 1.4, 0.8, 0.4, 0.2, 0, 0, 0, 0,
     0, 0, 0.2, 0.5, 1.0, 1.8, 2.4, 2.0, 1.3, 0.7, 0.4, 0.2, 0.1, 0, 0, 0, 0, 0, 0, 0,
     0, 0.2, 0.5, 0.2, 0, 0, 0.3, 0.8, 0.4, 0.2, 0.6, 1.0, 0.6, 0.3, 0.5, 1.0, 0.6, 0.3, 0.2, 0.4],
    [0, 3.4, 4.8, 3.3, 0.2, 0, 0, 2.2, 2.8, 3.0, 2.4, 1.8, 1.2, 0.7, 0.4, 0.2, 0, 0, 0, 0,
     0, 0, 0.1, 0.4, 1.0, 1.5, 2.0, 1.6, 1.0, 4.0, 0.6, 0.2, 0, 0, 0, 0, 0, 0, 0, 0,
     0, 0, 0, 0, 0, 0, 0, 0, 0, 0, 0, 0, 0, 0.2, 0.4, 0.2, 1.0, 3.0, 0.6, 0.2],
    [0, 3.5, 5.0, 3.5, 0.3, 0, 0, 2.3, 3.0, 3.3, 2.6, 2.0, 1.3, 0.8, 0.4, 0.2, 0, 0, 0, 0,
     0, 0, 0.2, 0.6, 1.2, 2.0, 2.6, 2.2, 1.5, 0.8, 0.5, 0.3, 0.2, 0, 0, 0, 0, 0, 0, 0,
     0, 0, 0, 0, 0, 0, 0, 0.4, 1.0, 0.6, 0.4, 0.8, 0.5, 0.3, 0.2, 0.5, 1.0, 0.6, 0.3, 0.2],
    [0, 3.1, 4.4, 3.1, 0.2, 0, 0, 2.1, 2.7, 3.0, 2.3, 1.7, 1.1, 0.6, 0.3, 0.1, 0, 0, 0, 0,
     0, 0, 0, 0.3, 0.8, 1.2, 1.6, 1.4, 0.8, 0.4, 0.2, 3.5, 0.6, 0, 0, 0, 0, 0, 0, 0,
     0, 0, 0, 0, 0, 0, 0, 0, 1.2, 4.5, 0.6, 0, 0, 0.3, 0.6, 0.4, 0.2, 0, 0, 0],
    [0, 3.0, 4.3, 3.0, 0.2, 0, 0, 2.0, 2.6, 2.8, 2.2, 1.6, 1.0, 0.6, 0.3, 0.1, 0, 0, 0, 0,
     0, 0, 0, 0.2, 0.6, 1.0, 1.4, 1.8, 5.0, 0.6, 0.4, 0.2, 0, 0, 0, 0, 0, 0, 0, 0,
     0, 0, 0, 0, 0, 0, 0, 0, 0, 0, 0, 0.3, 0.6, 0.3, 3.5, 0.8, 0.2, 0.4, 0.2, 0],
    [0, 3.3, 4.6, 3.2, 0.2, 0, 0, 2.3, 3.0, 2.6, 2.2, 1.6, 1.0, 0.6, 0.3, 0.1, 0, 0, 0, 0,
     0, 0, 0.3, 1.2, 2.2, 2.0, 1.5, 1.0, 0.6, 0.3, 2.5, 0.4, 0, 0, 0, 0, 0, 0, 0, 0,
     0, 0, 0, 0, 0, 0, 0, 0, 0, 0, 0, 0, 0, 0, 0, 1.2, 5.0, 0.6, 0.4, 0.2],
    [0, 3.7, 5.1, 3.6, 0.3, 0, 0.2, 2.5, 3.2, 6.4, 3.0, 2.2, 1.5, 0.8, 0.5, 0.2, 0, 0, 0, 0,
     0, 0, 0.5, 1.5, 2.5, 2.0, 1.5, 1.2, 0.8, 0.4, 0.2, 0.1, 0, 0, 0, 0, 0, 0, 0, 0,
     0, 0, 0, 0, 0, 0, 0, 2.0, 10.0, 12.6, 21.0, 1.0, 0.4, 0.2, 0, 0, 0, 0.2, 0.4, 0.2],
    [0, 3.2, 4.6, 3.2, 0.2, 0, 0, 2.2, 2.8, 3.0, 2.4, 1.8, 1.2, 0.7, 0.4, 0.2, 0, 0, 0, 0,
     0, 0, 0.2, 0.6, 1.4, 2.2, 2.8, 2.4, 1.6, 0.8, 0.4, 0.2, 0, 0, 0, 0, 0, 0, 0, 0,
     0.2, 0.5, 0.3, 0.8, 0.5, 0.3, 0.6, 0.4, 0.2, 0.5, 0.8, 1.2, 0.6, 0.4, 0.8, 1.5, 0.8, 0.5, 0.6, 0.8],
    [0, 3.6, 5.0, 3.5, 0.3, 0, 0, 2.4, 3.0, 3.6, 3.0, 2.4, 1.5, 0.8, 0.4, 0.2, 0, 0, 0, 0,
     0, 0, 0.3, 0.8, 1.5, 2.4, 3.2, 2.0, 1.3, 0.7, 0.4, 5.5, 1.0, 0, 0, 0, 0, 0, 0, 0,
     0, 0, 0, 0, 0, 0, 0, 0, 0, 0, 0.3, 0.6, 4.0, 1.0, 0, 0, 0, 0.2, 0.4, 0.2],
    [0, 3.4, 4.8, 3.3, 0.2, 0, 0, 2.2, 2.8, 3.2, 2.5, 1.9, 1.2, 0.7, 0.4, 0.2, 0, 0, 0, 0,
     0, 0, 0.2, 0.6, 1.2, 1.8, 2.2, 1.8, 1.2, 0.6, 0.3, 0.2, 0, 0, 0, 0, 0, 0, 0, 0.3,
     0.6, 0.4, 0, 0, 0, 0, 0, 0, 0.3, 0.5, 1.0, 2.0, 3.0, 1.5, 0.8, 2.0, 4.0, 6.5, 3.5, 2.0],
    [0, 3.0, 4.4, 3.0, 0.2, 0, 0, 2.0, 2.6, 2.9, 2.3, 1.7, 1.1, 0.6, 0.3, 0.1, 0, 0, 0, 0,
     0, 0, 0.2, 0.5, 1.0, 1.6, 2.0, 1.6, 1.0, 0.5, 0.3, 0.2, 4.5, 0.8, 0.2, 0, 0, 0, 0, 0,
     0, 0, 0, 0, 0, 0, 0, 0, 0, 0, 0, 0, 0.3, 0.5, 0.3, 0.2, 0.8, 1.5, 5.5, 1.0],
    [0, 2.8, 4.2, 2.8, 0.1, 0, 0, 2.1, 2.6, 2.8, 2.2, 1.6, 1.1, 0.6, 0.3, 0.1, 0, 0, 0, 0,
     0, 0, 0.2, 0.6, 1.2, 1.8, 2.2, 1.6, 1.2, 0.6, 0.4, 0.2, 0.1, 0, 0, 0, 0, 0, 0, 0,
     0, 0, 0, 0, 0, 0, 0, 0, 0, 0, 0.4, 1.5, 4.5, 2.0, 1.0, 0.6, 0.4, 0.8, 0.5, 0.3],
    [0, 3.0, 4.4, 3.0, 0.2, 0, 0, 2.2, 2.6, 4.0, 2.6, 1.8, 1.2, 0.6, 0.3, 0.1, 0, 0, 0, 0,
     0, 0, 0, 0.3, 0.8, 1.4, 2.0, 2.4, 1.6, 0.8, 0.4, 1.2, 4.0, 0.6, 0, 0, 0, 0, 0, 0,
     0, 0, 0, 0, 0, 0, 0, 0.8, 3.0, 0.5, 0, 0, 0, 0, 0, 0, 0, 0, 0, 0],
    [0, 2.9, 4.3, 2.9, 0.2, 0, 0, 2.0, 2.5, 2.7, 2.1, 1.5, 1.0, 0.5, 0.3, 0.1, 0, 0, 0, 0,
     0, 0, 0.1, 0.4, 0.9, 1.4, 1.8, 1.5, 1.0, 0.5, 0.3, 0.2, 0, 0, 0, 0, 0, 0, 0, 0,
     0, 0, 0, 0.5, 1.0, 0.5, 0.2, 0.6, 1.2, 0.6, 0.8, 1.5, 2.5, 1.5, 0.8, 0.5, 0.8, 1.5, 0.8, 0.5],
    [0, 2.6, 3.9, 2.6, 0.1, 0, 0, 1.9, 2.3, 2.5, 2.0, 1.4, 0.9, 0.5, 0.3, 0.1, 0, 0, 0, 0,
     0, 0, 0.1, 0.3, 0.7, 1.1, 1.5, 1.2, 0.8, 3.0, 0.6, 0.1, 0, 0, 0, 0, 0, 0, 0, 0,
     0, 0, 0, 0, 0, 0, 0, 0, 0, 0, 0, 0, 0.2, 4.5, 0.8, 0, 0, 0, 0.2, 0.4],
]

# 20-step colour cycle of the perturbed members (P1..P20, repeated)
MEMBER_COLORS = ["#192dbe", "#1450be", "#146eb9", "#1496c3", "#14aaaf",
                 "#14a582", "#14a05a", "#14aa3c", "#14b41e", "#14c314",
                 "#beb900", "#c3aa00", "#be9600", "#c38700", "#be7300",
                 "#b95f00", "#b4500a", "#af3c14", "#9b2819", "#871414"]
CONTROL_COLOR = "#1414ff"
MEAN_COLOR = "white"
CLIM_COLOR = "#e84545"
OPER_COLOR = "#1ed21e"


def legend_row(fig, x_px, y_px, color, lw, text, **kw):
    y = 1 - y_px / FIG_H
    fig.add_artist(Line2D([x_px / FIG_W, (x_px + 9) / FIG_W], [y, y], color=color, lw=lw))
    fig.text((x_px + 10) / FIG_W, kw.pop("text_y", y), text, color="white",
             fontsize=7.5, ha="left", va=kw.pop("va", "center"), **kw)


def main():
    fig = plt.figure(figsize=(FIG_W / 100, FIG_H / 100), dpi=100, facecolor="black")
    ax = fig.add_axes([163 / FIG_W, 1 - 559 / FIG_H, 647 / FIG_W, 529 / FIG_H])
    ax.set_facecolor("black")
    ax2 = ax.twinx()

    # temperature
    for i, temps in enumerate(MEMBER_T):
        ax.plot(MEMBER_HOURS, temps, color=MEMBER_COLORS[i % 20], lw=0.65)
    ax.plot(MEMBER_HOURS, CONTROL_T, color=CONTROL_COLOR, lw=0.7)
    ax.plot(HOURS, CLIM_T, color=CLIM_COLOR, lw=2.6)
    ax.plot(HOURS, MEAN_T, color=MEAN_COLOR, lw=2.6)
    ax.plot(HOURS, OPER_T, color=OPER_COLOR, lw=2.4)

    # precipitation
    for i, rain in enumerate(MEMBER_P):
        ax2.plot(HOURS, rain, color=MEMBER_COLORS[i % 20], lw=0.65)
    ax2.plot(HOURS, CONTROL_P, color=CONTROL_COLOR, lw=2.4)
    ax2.plot(HOURS, MEAN_P, color=MEAN_COLOR, lw=2.6)
    ax2.plot(HOURS, OPER_P, color=OPER_COLOR, lw=2.4)

    ax.set_xlim(0, 361.5)
    ax.set_ylim(-30, 15)
    ax2.set_ylim(0, 40)
    ax.set_xticks(DAY_HOURS)
    ax.set_xticklabels(DAY_LABELS)
    ax.set_yticks(range(-30, 16, 5))
    ax.grid(True, color="#3a3a3a", ls=(0, (4, 4)), lw=0.8)
    ax.tick_params(axis="x", length=0, colors="white", labelsize=7.5, pad=6)
    ax.tick_params(axis="y", length=0, colors="white", labelsize=7.5, pad=6)
    ax2.set_yticks(range(0, 41, 10))
    ax2.yaxis.set_minor_locator(MultipleLocator(1))
    ax2.tick_params(axis="y", which="both", direction="in", length=3,
                    colors="white", labelsize=7.5, pad=5)
    for axis in (ax, ax2):
        for spine in axis.spines.values():
            spine.set_color("white")
            spine.set_linewidth(1.0)

    ax.set_xlabel("Date (UTC)", color="white", fontsize=7.5)
    ax.xaxis.set_label_coords(0.5, -0.047)
    ax.set_ylabel("850 hPa Temp. (°C)", color="white", fontsize=7.5)
    ax.yaxis.set_label_coords(-0.047, 0.5)
    ax2.set_ylabel("Niederschlag (mm)", color="white", fontsize=7.5)
    ax2.yaxis.set_label_coords(1.037, 0.5)

    fig.text(435 / FIG_W, 1 - 12 / FIG_H,
             "Adapazarı  (TR)  850 hPa Temp. & Niederschlag | Fri, 16Jan2026 00Z",
             color="white", fontsize=11.5, weight="bold", ha="center", va="center")
    fig.text(120 / FIG_W, 1 - 598 / FIG_H, "ECMWF Ensemble, 40.75N, 30.5E",
             color="white", fontsize=11.5, ha="left", va="center")
    fig.text(650 / FIG_W, 1 - 598 / FIG_H, "Wetterzentrale.de",
             color="white", fontsize=11.5, ha="left", va="center")

    # legend, two columns at the left edge
    for n in range(len(MEMBER_T)):
        x_px = -1 if n % 2 == 0 else 53
        legend_row(fig, x_px, 40 + 15 * (n // 2), MEMBER_COLORS[n % 20], 1.2, f"P{n + 1}")
    legend_row(fig, -1, 415, CONTROL_COLOR, 2.0, "Control")
    legend_row(fig, 53, 415, MEAN_COLOR, 2.0, "Ens. mean")
    legend_row(fig, 53, 442, CLIM_COLOR, 2.0, "1991-2020\nmean",
               text_y=1 - 436 / FIG_H, va="top", linespacing=0.95)
    legend_row(fig, -1, 456, OPER_COLOR, 2.0, "Oper")

    fig.savefig("out.png", dpi=100, facecolor="black")
    plt.close(fig)


if __name__ == "__main__":
    main()
